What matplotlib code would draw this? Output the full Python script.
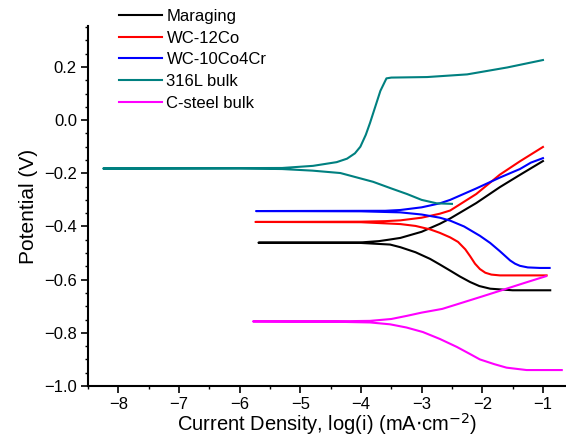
import matplotlib
matplotlib.use("Agg")
import matplotlib.pyplot as plt
from matplotlib.ticker import MultipleLocator

plt.rcParams['font.family'] = ['Liberation Sans', 'DejaVu Sans']

labels = ["Maraging", "WC-12Co", "WC-10Co4Cr", "316L bulk", "C-steel bulk"]
colors = ["#000000", "#ff0000", "#0000ff", "#008080", "#ff00ff"]

# Maraging
mar_cat_x = [-0.88, -1.5, -1.87, -2.05, -2.2, -2.37, -2.53, -2.7, -2.86, -3.1, -3.35, -3.52, -4.0, -5.69]
mar_cat_y = [-0.640, -0.640, -0.634, -0.624, -0.609, -0.588, -0.566, -0.543, -0.522, -0.497, -0.478, -0.468, -0.462, -0.461]
mar_an_x = [-5.69, -4.0, -3.7, -3.52, -3.35, -3.0, -2.70, -2.53, -2.1, -1.71, -1.38, -1.0]
mar_an_y = [-0.461, -0.460, -0.455, -0.449, -0.443, -0.420, -0.390, -0.370, -0.312, -0.252, -0.206, -0.154]

# WC-12Co
wc12_cat_x = [-0.94, -1.71, -1.85, -1.95, -2.04, -2.12, -2.2, -2.28, -2.4, -2.53, -2.7, -2.86, -3.1, -3.35, -4.0, -5.74]
wc12_cat_y = [-0.584, -0.584, -0.581, -0.574, -0.560, -0.540, -0.512, -0.486, -0.458, -0.441, -0.424, -0.411, -0.398, -0.391, -0.384, -0.383]
wc12_an_x = [-5.74, -4.0, -3.6, -3.35, -3.0, -2.70, -2.53, -2.1, -1.71, -1.38, -1.0]
wc12_an_y = [-0.383, -0.382, -0.380, -0.377, -0.367, -0.352, -0.340, -0.278, -0.205, -0.155, -0.101]

# WC-10Co4Cr
wc10_cat_x = [-0.89, -1.05, -1.25, -1.38, -1.46, -1.54, -1.71, -1.87, -2.04, -2.3, -2.53, -2.70, -3.0, -3.35, -4.0, -5.73]
wc10_cat_y = [-0.556, -0.556, -0.554, -0.548, -0.540, -0.528, -0.493, -0.462, -0.435, -0.400, -0.378, -0.367, -0.355, -0.347, -0.343, -0.342]
wc10_an_x = [-5.73, -3.6, -3.35, -3.0, -2.70, -2.53, -2.1, -1.71, -1.38, -1.2, -1.0]
wc10_an_y = [-0.342, -0.341, -0.338, -0.328, -0.313, -0.300, -0.257, -0.216, -0.184, -0.160, -0.143]

# 316L bulk
ss_cat_x = [-2.50, -2.75, -3.0, -3.24, -3.5, -3.8, -4.34, -4.8, -5.3, -6.0, -8.25]
ss_cat_y = [-0.315, -0.313, -0.300, -0.278, -0.257, -0.232, -0.199, -0.190, -0.184, -0.182, -0.182]
ss_an_x = [-8.25, -5.3, -4.79, -4.4, -4.23, -4.1, -4.01, -3.92, -3.85, -3.68, -3.58, -3.5, -2.91, -2.25, -1.59, -1.0]
ss_an_y = [-0.182, -0.180, -0.172, -0.158, -0.145, -0.125, -0.100, -0.055, -0.010, 0.110, 0.157, 0.160, 0.162, 0.172, 0.198, 0.226]

# C-steel bulk
cs_cat_x = [-0.69, -1.27, -1.6, -1.8, -2.04, -2.2, -2.42, -2.7, -2.98, -3.25, -3.52, -3.85, -4.5, -5.78]
cs_cat_y = [-0.940, -0.940, -0.931, -0.918, -0.900, -0.880, -0.853, -0.823, -0.797, -0.780, -0.768, -0.761, -0.758, -0.757]
cs_an_x = [-5.78, -4.5, -3.85, -3.5, -3.24, -3.0, -2.66, -2.42, -2.0, -1.71, -1.3, -0.95]
cs_an_y = [-0.757, -0.757, -0.755, -0.748, -0.736, -0.724, -0.710, -0.693, -0.663, -0.642, -0.612, -0.587]

series = [
    (mar_cat_x + mar_an_x, mar_cat_y + mar_an_y),
    (wc12_cat_x + wc12_an_x, wc12_cat_y + wc12_an_y),
    (wc10_cat_x + wc10_an_x, wc10_cat_y + wc10_an_y),
    (ss_cat_x + ss_an_x, ss_cat_y + ss_an_y),
    (cs_cat_x + cs_an_x, cs_cat_y + cs_an_y),
]

fig = plt.figure(figsize=(5.66, 4.41), dpi=100)
ax = fig.add_axes([88/566, 1-386/441, 1-88/566, (386-26)/441])

for (x, y), lab, c in zip(series, labels, colors):
    ax.plot(x, y, color=c, lw=1.5, label=lab)

ax.set_xlim(-8.5, -0.62)
ax.set_ylim(-1.0, 0.354)
ax.xaxis.set_major_locator(MultipleLocator(1))
ax.xaxis.set_minor_locator(MultipleLocator(0.5))
ax.yaxis.set_major_locator(MultipleLocator(0.2))
ax.yaxis.set_minor_locator(MultipleLocator(0.05))
ax.spines['top'].set_visible(False)
ax.spines['right'].set_visible(False)
ax.spines['left'].set_linewidth(1.5)
ax.spines['bottom'].set_linewidth(1.5)
ax.tick_params(which='major', direction='out', length=5, width=1.2, labelsize=12, pad=3)
ax.tick_params(which='minor', direction='out', length=2.5, width=1.0)
ax.set_xlabel("Current Density, log(i) (mA$\\cdot$cm$^{-2}$)", fontsize=14.5, labelpad=-1)
ax.set_ylabel("Potential (V)", fontsize=15, labelpad=4)

leg = fig.legend(loc='upper left', bbox_to_anchor=(119/566, 1-9/441), frameon=False,
                 fontsize=12, handlelength=2.55, handletextpad=0.3, labelspacing=0.4,
                 borderaxespad=0, borderpad=0)

fig.savefig("out.png", dpi=100)
